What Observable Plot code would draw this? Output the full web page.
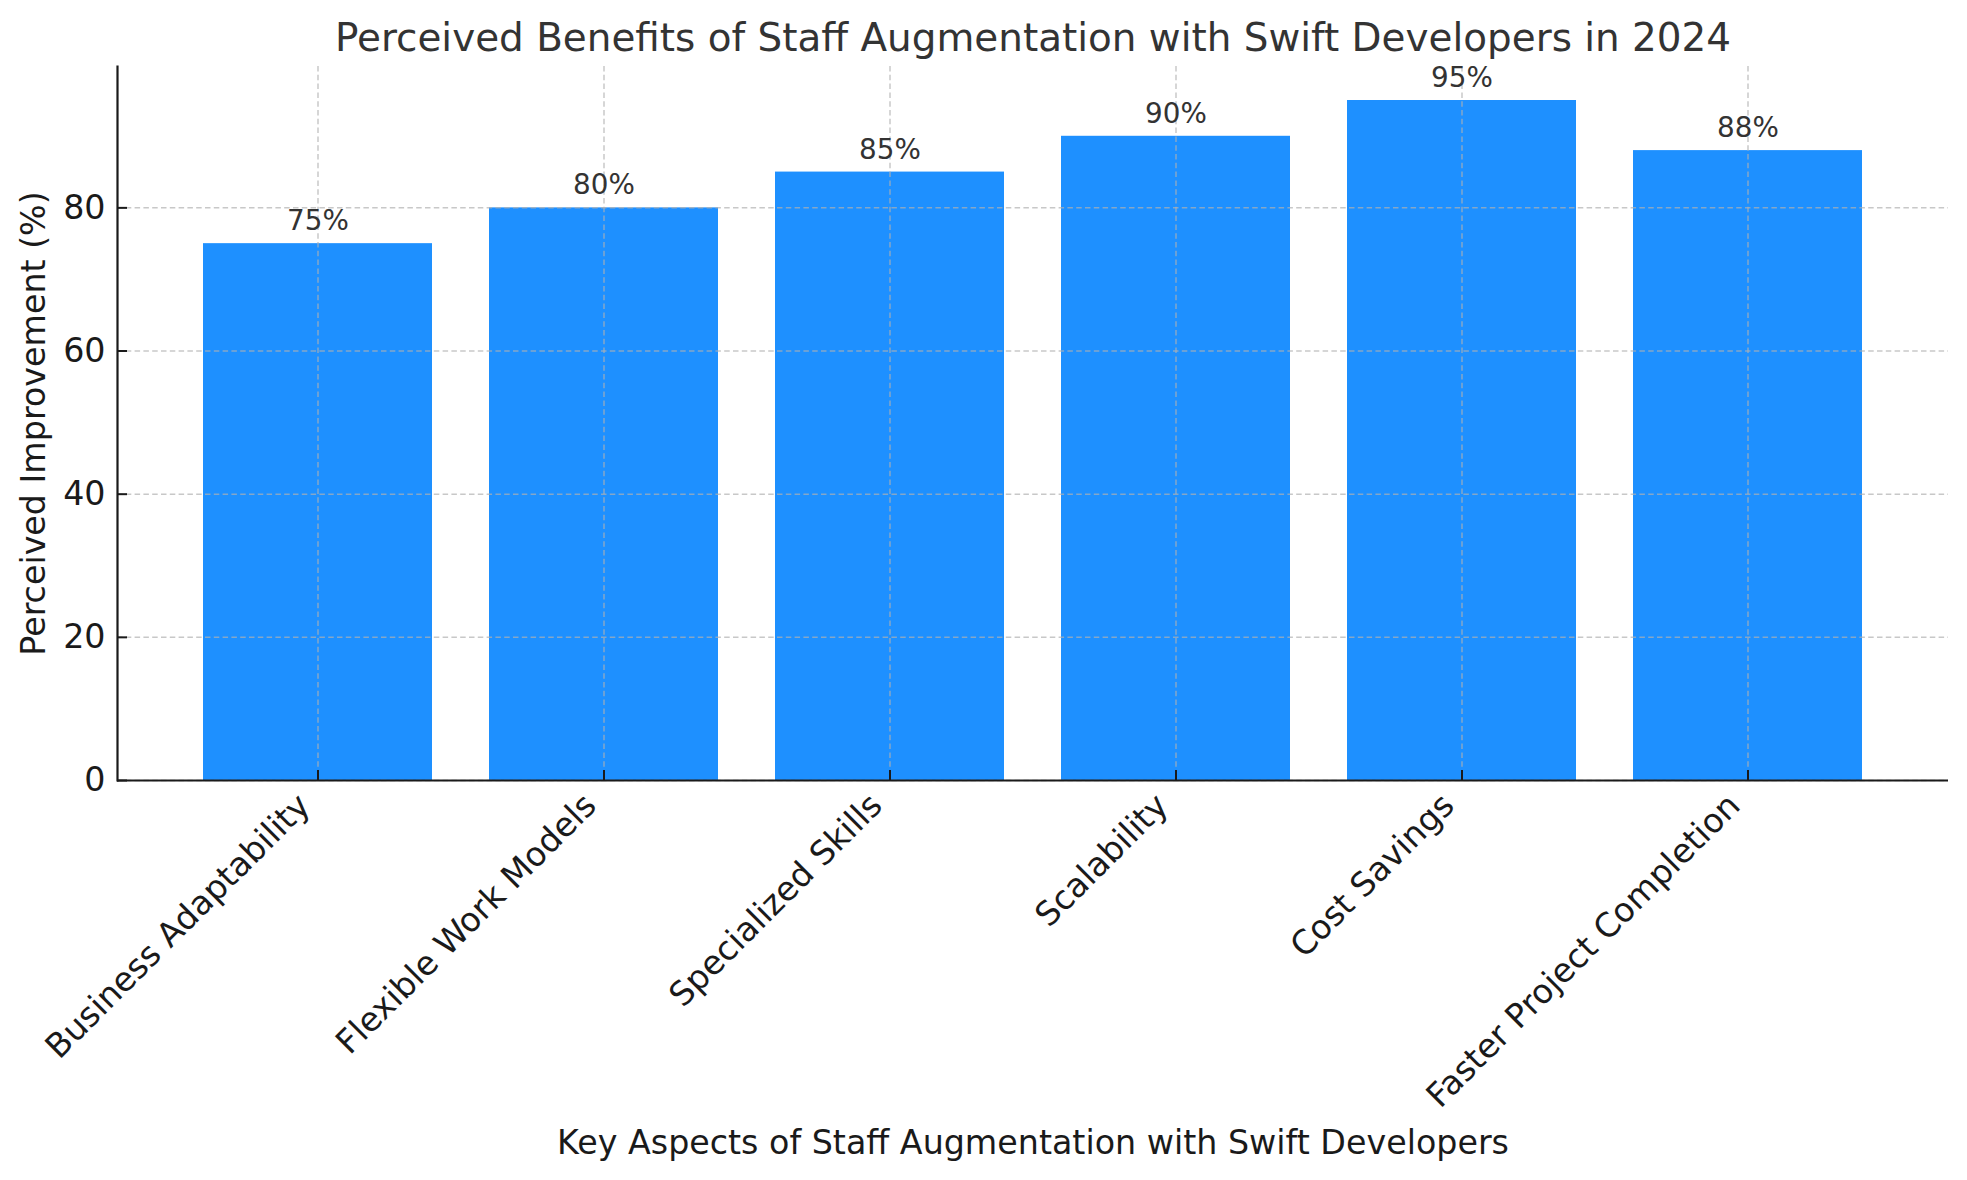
<!DOCTYPE html>
<html>
<head>
<meta charset="utf-8">
<script src="https://cdn.jsdelivr.net/npm/d3@7"></script>
<script src="https://cdn.jsdelivr.net/npm/@observablehq/plot@0.6"></script>
<style>
  html, body { margin: 0; padding: 0; background: #ffffff; }
  #chart svg { display: block; }
</style>
</head>
<body>
<div id="chart"></div>
<script>
const categories = [
  "Business Adaptability",
  "Flexible Work Models",
  "Specialized Skills",
  "Scalability",
  "Cost Savings",
  "Faster Project Completion"
];
const values = [75, 80, 85, 90, 95, 88];
const yTicks = [0, 20, 40, 60, 80];
const yTickLabels = ["0", "20", "40", "60", "80"];
const title = "Perceived Benefits of Staff Augmentation with Swift Developers in 2024";
const xLabel = "Key Aspects of Staff Augmentation with Swift Developers";
const yLabel = "Perceived Improvement (%)";

const data = categories.map((c, i) => ({category: c, value: values[i]}));

const font = "DejaVu Sans";
const gridStyle = {stroke: "#b0b0b0", strokeOpacity: 0.7, strokeWidth: 1.5, strokeDasharray: "5.5,3.3"};
const ink = "#1a1a1a";

const chart = Plot.plot({
  width: 1967,
  height: 1180,
  marginLeft: 117,
  marginRight: 19,
  marginTop: 66,
  marginBottom: 400,
  style: {fontFamily: font, background: "#ffffff", overflow: "visible"},
  x: {domain: categories, paddingInner: 0.2, paddingOuter: 0.29},
  y: {domain: [0, 99.75]},
  marks: [
    Plot.barY(data, {x: "category", y: "value", fill: "#1E90FF"}),
    Plot.ruleY(yTicks, {y: d => d, ...gridStyle}),
    Plot.ruleX(categories, {x: d => d, ...gridStyle}),
    Plot.axisX({tickSize: 10, dy: -10, fill: "none", stroke: ink, strokeWidth: 2, label: null}),
    Plot.axisY(yTicks, {tickSize: 10, dx: 10, fill: "none", stroke: ink, strokeWidth: 2, label: null}),
    Plot.ruleY([0], {stroke: ink, strokeWidth: 2.2}),
    Plot.frame({anchor: "left", stroke: ink, strokeWidth: 2.2}),
    Plot.text(data, {
      x: "category", y: "value", text: d => `${d.value}%`,
      dy: -13.5, lineAnchor: "bottom", textAnchor: "middle",
      fontSize: 27.8, fill: "#333333"
    }),
    Plot.text(yTicks, {
      y: d => d, text: (d, i) => yTickLabels[i], frameAnchor: "left",
      dx: -12, textAnchor: "end", lineAnchor: "middle", fontSize: 33.3, fill: ink
    }),
    Plot.text(categories, {
      x: d => d, text: d => d, frameAnchor: "bottom",
      dx: -6, dy: 27, rotate: -45, textAnchor: "end", lineAnchor: "bottom",
      fontSize: 33.3, fill: ink
    }),
    Plot.text([xLabel], {
      text: d => d, frameAnchor: "bottom", dy: 373,
      textAnchor: "middle", lineAnchor: "bottom", fontSize: 33.3, fill: ink
    }),
    Plot.text([yLabel], {
      text: d => d, frameAnchor: "left", dx: -73, rotate: -90,
      textAnchor: "middle", lineAnchor: "bottom", fontSize: 33.3, fill: ink
    }),
    Plot.text([title], {
      text: d => d, frameAnchor: "top", dy: -16,
      textAnchor: "middle", lineAnchor: "bottom", fontSize: 38.9, fill: "#333333"
    })
  ]
});
document.getElementById("chart").appendChild(chart);
</script>
</body>
</html>
